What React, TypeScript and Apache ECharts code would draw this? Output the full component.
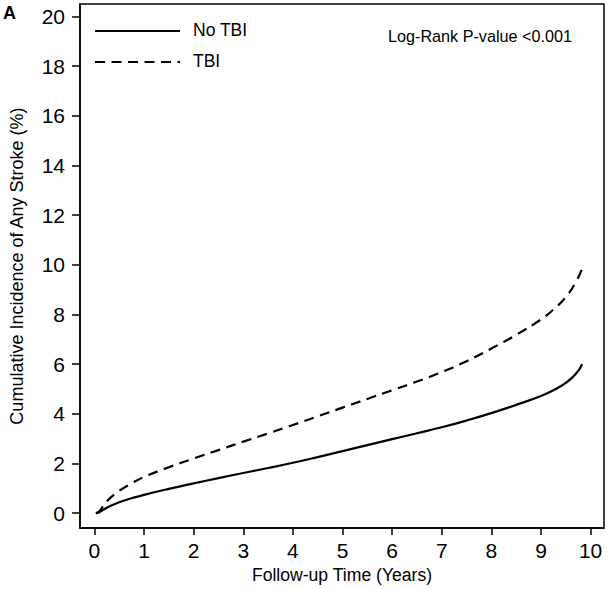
import React, { useEffect, useRef } from "react";
import * as echarts from "echarts";

const years = [0.03, 0.1, 0.25, 0.5, 0.75, 1, 1.5, 2, 2.5, 3, 3.5, 4, 4.5, 5, 5.5, 6, 6.5, 7, 7.5, 8, 8.5, 9, 9.25, 9.5, 9.7, 9.83];
const noTbi = [0, 0.04, 0.22, 0.44, 0.6, 0.74, 0.98, 1.2, 1.41, 1.62, 1.82, 2.03, 2.26, 2.5, 2.74, 2.98, 3.22, 3.46, 3.73, 4.03, 4.36, 4.72, 4.95, 5.25, 5.6, 6.0];
const tbi = [0, 0.08, 0.48, 0.9, 1.2, 1.46, 1.85, 2.2, 2.54, 2.88, 3.21, 3.55, 3.9, 4.25, 4.6, 4.95, 5.3, 5.68, 6.12, 6.63, 7.18, 7.8, 8.2, 8.7, 9.3, 9.85];
const xTicks = [0, 1, 2, 3, 4, 5, 6, 7, 8, 9, 10];
const yTicks = [0, 2, 4, 6, 8, 10, 12, 14, 16, 18, 20];
const seriesNames = ["No TBI", "TBI"];

const FONT = "'Liberation Sans', Arial, Helvetica, sans-serif";

export default function App() {
  const ref = useRef<HTMLDivElement>(null);
  useEffect(() => {
    if (!ref.current) return;
    const chart = echarts.init(ref.current, null, { renderer: "svg" });
    chart.setOption({
      animation: false,
      backgroundColor: "#ffffff",
      textStyle: { fontFamily: FONT, color: "#000" },
      grid: {
        left: 77,
        right: 4,
        top: 4,
        bottom: 59,
        show: true,
        borderColor: "#000",
        borderWidth: 1.5,
        containLabel: false,
      },
      graphic: [
        {
          type: "text",
          left: 3,
          top: 4,
          style: { text: "A", font: "bold 18px " + FONT, fill: "#000" },
        },
        {
          type: "text",
          left: 388,
          top: 28,
          style: { text: "Log-Rank P-value <0.001", font: "16.2px " + FONT, fill: "#000" },
        },
        {
          type: "line",
          shape: { x1: 95, y1: 31, x2: 180, y2: 31 },
          style: { stroke: "#000", lineWidth: 2.2 },
        },
        {
          type: "line",
          shape: { x1: 95, y1: 62, x2: 180, y2: 62 },
          style: { stroke: "#000", lineWidth: 2.2, lineDash: [10, 6.5] },
        },
        {
          type: "text",
          left: 193,
          top: 21,
          style: { text: seriesNames[0], font: "17.5px " + FONT, fill: "#000" },
        },
        {
          type: "text",
          left: 193,
          top: 52,
          style: { text: seriesNames[1], font: "17.5px " + FONT, fill: "#000" },
        },
      ],
      xAxis: {
        type: "value",
        min: -0.29,
        max: 10.27,
        name: "Follow-up Time (Years)",
        nameLocation: "middle",
        nameGap: 37,
        nameTextStyle: { fontSize: 17.6, color: "#000", fontFamily: FONT },
        splitLine: { show: false },
        axisLine: { show: true, onZero: false, lineStyle: { color: "#000", width: 1.5 } },
        axisTick: { show: true, inside: false, length: 7, lineStyle: { color: "#000", width: 1.5 }, customValues: xTicks },
        axisLabel: { fontSize: 21, color: "#000", margin: 12, customValues: xTicks, fontFamily: FONT },
      },
      yAxis: {
        type: "value",
        min: -0.6,
        max: 20.5,
        name: "Cumulative Incidence of Any Stroke (%)",
        nameLocation: "middle",
        nameGap: 54,
        nameTextStyle: { fontSize: 18, color: "#000", fontFamily: FONT },
        splitLine: { show: false },
        axisLine: { show: true, onZero: false, lineStyle: { color: "#000", width: 1.5 } },
        axisTick: { show: true, inside: false, length: 8, lineStyle: { color: "#000", width: 1.5 }, customValues: yTicks },
        axisLabel: { fontSize: 21, color: "#000", margin: 15, customValues: yTicks, fontFamily: FONT },
      },
      series: [
        {
          name: seriesNames[0],
          type: "line",
          data: years.map((x, i) => [x, noTbi[i]]),
          showSymbol: false,
          symbol: "none",
          smooth: true,
          lineStyle: { color: "#000", width: 2.2, type: "solid" },
          itemStyle: { color: "#000" },
        },
        {
          name: seriesNames[1],
          type: "line",
          data: years.map((x, i) => [x, tbi[i]]),
          showSymbol: false,
          symbol: "none",
          smooth: true,
          lineStyle: { color: "#000", width: 2.2, type: [10, 6.5] },
          itemStyle: { color: "#000" },
        },
      ],
    });
    return () => chart.dispose();
  }, []);
  return (
    <div
      ref={ref}
      style={{ position: "absolute", left: 0, top: 0, width: 608, height: 589 }}
    />
  );
}
